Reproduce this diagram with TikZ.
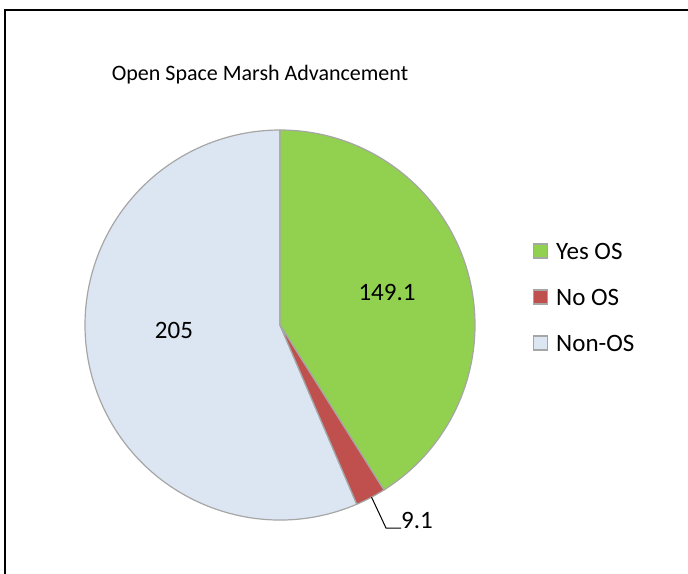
\documentclass[tikz,border=0pt]{standalone}
\usepackage{fontspec}
\setmainfont{Carlito}
\usetikzlibrary{calc}
\definecolor{yesos}{HTML}{92D050}
\definecolor{noos}{HTML}{C0504D}
\definecolor{nonos}{HTML}{DCE6F2}
\definecolor{edgegrey}{HTML}{A6A6A6}
\begin{document}
\begin{tikzpicture}[x=1pt,y=-1pt,
  slice/.style={draw=edgegrey,line width=1.2pt,line join=round},
  lbl/.style={font=\fontsize{25}{28}\selectfont,inner sep=0pt},
  legbox/.style={draw=edgegrey,line width=1.2pt,minimum size=14pt,inner sep=0pt},
  legtxt/.style={font=\fontsize{25}{28}\selectfont,anchor=west,inner sep=0pt}]
\useasboundingbox (0,0) rectangle (688,573);
\begin{scope}
\clip (0,0) rectangle (688,573);
\draw[line width=1.5pt] (5,10) rectangle (700,590);
\end{scope}
\node[font=\fontsize{22}{26}\selectfont] (title) at (260,75) {Open Space Marsh Advancement};
\coordinate (c) at (280,325);
\def\R{195}
% TikZ angles (y axis points down): top = -90, increasing = clockwise
\path[slice,fill=nonos] (c) -- ++(66.8:\R) arc[start angle=66.8,end angle=270,radius=\R] -- cycle;
\path[slice,fill=yesos] (c) -- ++(-90:\R) arc[start angle=-90,end angle=57.8,radius=\R] -- cycle;
\path[slice,fill=noos] (c) -- ++(57.8:\R) arc[start angle=57.8,end angle=66.8,radius=\R] -- cycle;
\node[lbl] (vyes) at (387,292) {149.1};
\node[lbl] (vnon) at (174,330) {205};
\node[lbl,anchor=west] (vno) at (401,520) {9.1};
\coordinate (lead) at ($(c)+(62.0:\R)$);
\coordinate (bend) at (386,528);
\draw[line width=1pt] (lead) -- (bend) -- (bend -| vno.west);
% legend
\node[legbox,fill=yesos] (ly) at (540.5,251) {};
\node[legtxt] (ty) at (556,251) {Yes OS};
\node[legbox,fill=noos] (ln) at (540.5,297) {};
\node[legtxt] (tn) at (556,297) {No OS};
\node[legbox,fill=nonos] (lo) at (540.5,343) {};
\node[legtxt] (to) at (556,343) {Non-OS};
\end{tikzpicture}
\end{document}
